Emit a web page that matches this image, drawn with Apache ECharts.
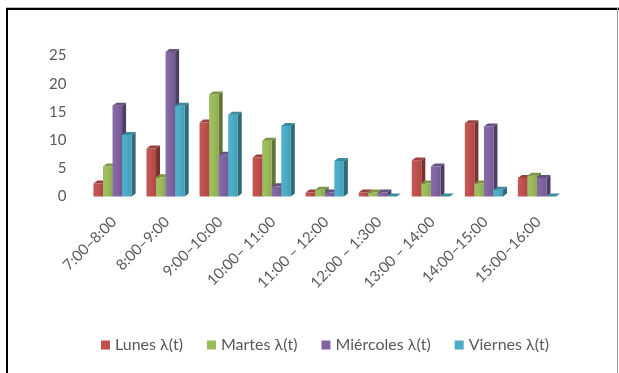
<!DOCTYPE html>
<html>
<head>
<meta charset="utf-8">
<script src="https://cdn.jsdelivr.net/npm/echarts@6/dist/echarts.min.js"></script>
<style>
  html, body { margin: 0; padding: 0; background: #fff; }
  #chart { width: 619px; height: 373px; }
</style>
</head>
<body>
<div id="chart"></div>
<script>
// Time slots (categories)
const categories = [
  '7:00–8:00', '8:00–9:00', '9:00–10:00', '10:00– 11:00', '11:00 – 12:00',
  '12:00 – 1:300', '13:00 – 14:00', '14:00–15:00', '15:00–16:00'
];

// Arrival rate λ(t) per weekday
const lunes     = [2.3, 8.5, 13.1, 6.9, 0.7, 0.7, 6.4, 13.0, 3.3];
const martes    = [5.3, 3.4, 18.1, 9.9, 1.2, 0.7, 2.3, 2.3, 3.7];
const miercoles = [16.1, 25.6, 7.4, 1.8, 0.7, 0.7, 5.3, 12.4, 3.3];
const viernes   = [10.9, 16.1, 14.5, 12.5, 6.3, 0, 0, 1.2, 0];

const seriesNames = ['Lunes λ(t)', 'Martes λ(t)', 'Miércoles λ(t)', 'Viernes λ(t)'];
const seriesData = [lunes, martes, miercoles, viernes];
const colors = ['#C0504D', '#9BBB59', '#8064A2', '#4BACC6'];

const yTicks = [0, 5, 10, 15, 20, 25];

function shade(hex, f) {
  const n = parseInt(hex.slice(1), 16);
  let r = (n >> 16) & 255, g = (n >> 8) & 255, b = n & 255;
  if (f < 1) { r *= f; g *= f; b *= f; }
  else { r += (255 - r) * (f - 1); g += (255 - g) * (f - 1); b += (255 - b) * (f - 1); }
  return 'rgb(' + Math.round(r) + ',' + Math.round(g) + ',' + Math.round(b) + ')';
}

// 3D-looking column: front face, right side face and top face
function makeRender(sIdx) {
  const base = colors[sIdx];
  return function (params, api) {
    const ci = api.value(0);
    const v = api.value(1);
    const p0 = api.coord([ci, 0]);
    const p1 = api.coord([ci, v]);
    const band = api.size([1, 0])[0];
    const w = band * 0.18;
    const dx = 4, dy = 3;
    const x0 = p0[0] - 2 * w - 1.5 + sIdx * w;
    const yb = p0[1];
    const yt = p1[1];
    const children = [];
    children.push({
      type: 'polygon',
      shape: { points: [[x0 + w, yt], [x0 + w + dx, yt - dy], [x0 + w + dx, yb - dy], [x0 + w, yb]] },
      style: { fill: shade(base, 0.62) }
    });
    if (yb - yt > 0) {
      children.push({
        type: 'rect',
        shape: { x: x0, y: yt, width: w, height: yb - yt },
        style: {
          fill: new echarts.graphic.LinearGradient(0, 0, 1, 0, [
            { offset: 0, color: shade(base, 1.05) },
            { offset: 0.5, color: base },
            { offset: 1, color: shade(base, 0.9) }
          ])
        }
      });
    }
    children.push({
      type: 'polygon',
      shape: { points: [[x0, yt], [x0 + dx, yt - dy], [x0 + w + dx, yt - dy], [x0 + w, yt]] },
      style: { fill: shade(base, 0.8) }
    });
    return { type: 'group', children: children };
  };
}

const chart = echarts.init(document.getElementById('chart'), null, { renderer: 'canvas' });

const fontFamily = 'Lato, "Open Sans", "Liberation Sans", sans-serif';

chart.setOption({
  backgroundColor: '#ffffff',
  animation: false,
  grid: { left: 87.5, right: 54, top: 55.5, bottom: 176.5 },
  legend: {
    left: 96,
    top: 332,
    icon: 'rect',
    itemWidth: 9,
    itemHeight: 9,
    itemGap: 24,
    textStyle: { color: '#595959', fontSize: 16, fontFamily: fontFamily },
    data: seriesNames
  },
  xAxis: {
    type: 'category',
    data: categories,
    axisLine: { show: false },
    axisTick: { show: false },
    splitLine: { show: false },
    axisLabel: {
      rotate: 45,
      margin: 23,
      interval: 0,
      color: '#595959',
      fontSize: 15,
      fontFamily: fontFamily
    }
  },
  yAxis: {
    type: 'value',
    min: yTicks[0],
    max: yTicks[yTicks.length - 1],
    interval: 5,
    axisLine: { show: false },
    axisTick: { show: false },
    splitLine: { show: false },
    axisLabel: {
      margin: 21,
      color: '#595959',
      fontSize: 15,
      fontFamily: fontFamily
    }
  },
  series: seriesData.map(function (arr, i) {
    return {
      name: seriesNames[i],
      type: 'custom',
      clip: false,
      itemStyle: { color: colors[i] },
      encode: { x: 0, y: 1 },
      renderItem: makeRender(i),
      data: arr.map(function (v, ci) { return [ci, v]; }),
      z: 2 + i
    };
  }),
  graphic: [
    { type: 'line', shape: { x1: 6, y1: 7.5, x2: 619, y2: 7.5 }, style: { stroke: '#bdbdbd', lineWidth: 1 } },
    { type: 'line', shape: { x1: 6, y1: 9, x2: 619, y2: 9 }, style: { stroke: '#000', lineWidth: 2 } },
    { type: 'line', shape: { x1: 7, y1: 8, x2: 7, y2: 373 }, style: { stroke: '#000', lineWidth: 2 } },
    { type: 'line', shape: { x1: 617.5, y1: 8, x2: 617.5, y2: 373 }, style: { stroke: '#9a9a9a', lineWidth: 1 } }
  ]
});
</script>
</body>
</html>
